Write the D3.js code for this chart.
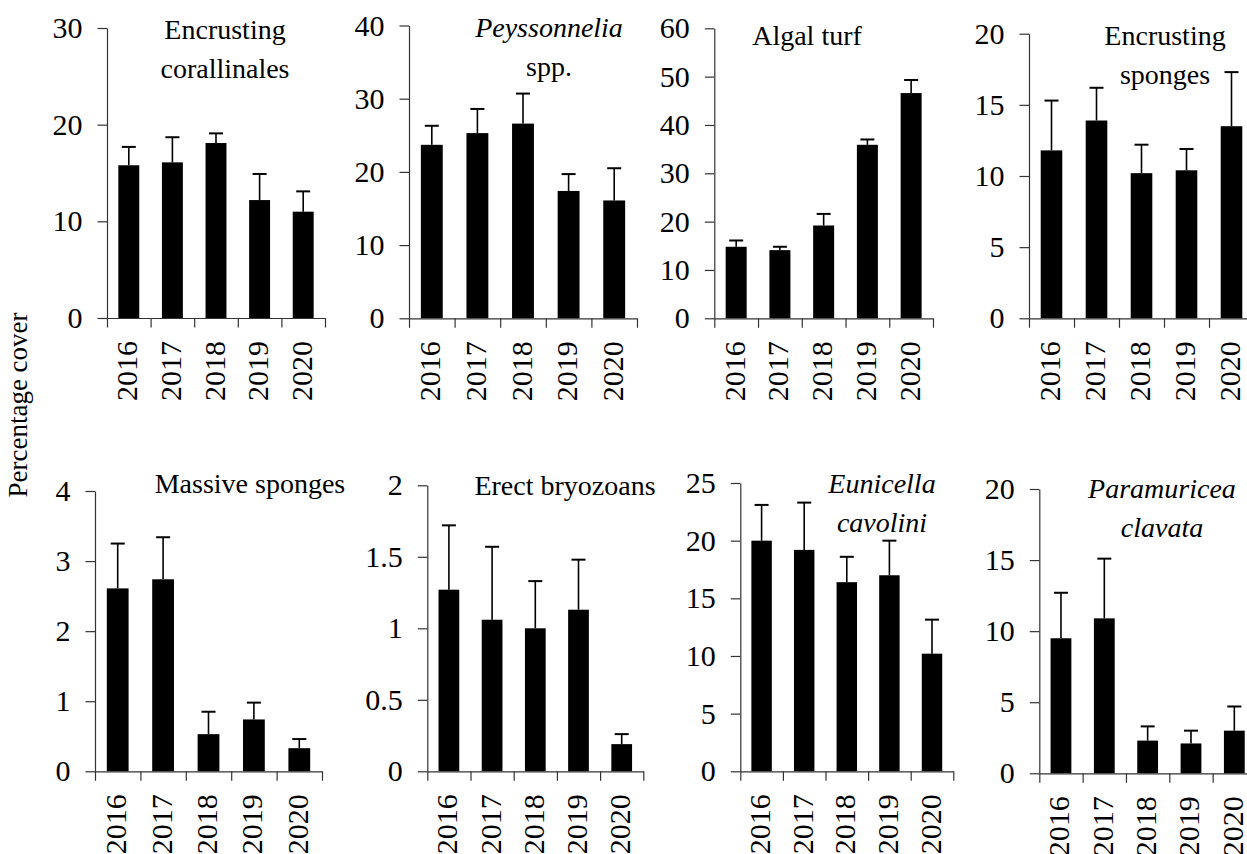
<!DOCTYPE html>
<html>
<head>
<meta charset="utf-8">
<script src="https://cdn.jsdelivr.net/npm/d3@7"></script>
<style>
  body { margin: 0; background: #fff; }
</style>
</head>
<body>
<div class="container"></div>
<script>
const years = ['2016', '2017', '2018', '2019', '2020']

// panel titles (lines), italic for species names
const titles = [
  ['Encrusting', 'corallinales'],
  ['Peyssonnelia', 'spp.'],
  ['Algal turf'],
  ['Encrusting', 'sponges'],
  ['Massive sponges'],
  ['Erect bryozoans'],
  ['Eunicella', 'cavolini'],
  ['Paramuricea', 'clavata']
]

// mean percentage cover per year
const encCorallinales = [15.8, 16.1, 18.1, 12.2, 11.0]
const peyssonnelia = [23.7, 25.3, 26.6, 17.4, 16.1]
const algalTurf = [14.8, 14.1, 19.2, 35.9, 46.6]
const encSponges = [11.8, 13.9, 10.2, 10.4, 13.5]
const massiveSponges = [2.61, 2.74, 0.53, 0.74, 0.33]
const erectBryozoans = [1.27, 1.06, 1.00, 1.13, 0.19]
const eunicella = [20.0, 19.2, 16.4, 17.0, 10.2]
const paramuricea = [9.5, 10.9, 2.3, 2.1, 3.0]

// standard errors
const encCorallinalesSE = [1.9, 2.6, 1.0, 2.7, 2.1]
const peyssonneliaSE = [2.6, 3.3, 4.1, 2.3, 4.4]
const algalTurfSE = [1.3, 0.7, 2.4, 1.1, 2.7]
const encSpongesSE = [3.5, 2.3, 2.0, 1.5, 3.8]
const massiveSpongesSE = [0.64, 0.60, 0.32, 0.24, 0.13]
const erectBryozoansSE = [0.45, 0.51, 0.33, 0.35, 0.07]
const eunicellaSE = [3.1, 4.1, 2.2, 3.0, 2.95]
const paramuriceaSE = [3.2, 4.2, 1.0, 0.9, 1.7]

// y tick labels per panel
const yTicks = [
  [0, 10, 20, 30],
  [0, 10, 20, 30, 40],
  [0, 10, 20, 30, 40, 50, 60],
  [0, 5, 10, 15, 20],
  [0, 1, 2, 3, 4],
  [0, 0.5, 1, 1.5, 2],
  [0, 5, 10, 15, 20, 25],
  [0, 5, 10, 15, 20]
]

const means = [encCorallinales, peyssonnelia, algalTurf, encSponges,
  massiveSponges, erectBryozoans, eunicella, paramuricea]
const errors = [encCorallinalesSE, peyssonneliaSE, algalTurfSE, encSpongesSE,
  massiveSpongesSE, erectBryozoansSE, eunicellaSE, paramuriceaSE]
const italic = [false, true, false, false, false, false, true, true]

// layout of each panel: plot box left/right/top/bottom, title centre & baseline
const layout = [
  {x0: 107, x1: 325, top: 28, bottom: 318, tx: 225, ty: 39},
  {x0: 409, x1: 637, top: 25.5, bottom: 318.3, tx: 549, ty: 37},
  {x0: 714.3, x1: 933, top: 28.3, bottom: 318.3, tx: 807, ty: 45},
  {x0: 1029, x1: 1254, top: 33.7, bottom: 318.3, tx: 1165, ty: 45},
  {x0: 95, x1: 322, top: 491, bottom: 771.3, tx: 250, ty: 493},
  {x0: 427.3, x1: 643.3, top: 485.3, bottom: 771.3, tx: 565, ty: 495},
  {x0: 740.3, x1: 953.3, top: 483, bottom: 771.3, tx: 882, ty: 493},
  {x0: 1039.3, x1: 1256, top: 489, bottom: 773.3, tx: 1162, ty: 498}
]

const width = 1247
const height = 854
const serif = "'Liberation Serif'"

const svg = d3.select('.container')
  .append('svg')
  .attr('width', width)
  .attr('height', height)

svg.append('text')
  .attr('transform', 'translate(27, 405) rotate(-90)')
  .attr('text-anchor', 'middle')
  .style('font-family', serif)
  .style('font-size', '27px')
  .attr('fill', '#000')
  .text('Percentage cover')

layout.forEach(function(L, i) {
  const g = svg.append('g')
  const ticks = yTicks[i]

  const y = d3.scaleLinear()
    .domain([0, d3.max(ticks)])
    .range([L.bottom, L.top])

  const x = d3.scaleBand()
    .domain(years)
    .range([L.x0, L.x1])
    .paddingInner(0.52)
    .paddingOuter(0.26)

  const xEdges = d3.scaleLinear()
    .domain([0, years.length])
    .range([L.x0, L.x1])

  const rows = years.map((yr, j) => ({year: yr, mean: means[i][j], se: errors[i][j]}))

  // bars
  g.selectAll('rect.bar')
    .data(rows)
    .join('rect')
    .attr('class', 'bar')
    .attr('x', d => x(d.year))
    .attr('width', x.bandwidth())
    .attr('y', d => y(d.mean))
    .attr('height', d => y(0) - y(d.mean))
    .attr('fill', '#000')

  // error bars (upper only)
  g.selectAll('line.err')
    .data(rows)
    .join('line')
    .attr('class', 'err')
    .attr('x1', d => x(d.year) + x.bandwidth() / 2)
    .attr('x2', d => x(d.year) + x.bandwidth() / 2)
    .attr('y1', d => y(d.mean))
    .attr('y2', d => y(d.mean + d.se))
    .attr('stroke', '#000')
    .attr('stroke-width', 1.6)

  g.selectAll('line.cap')
    .data(rows)
    .join('line')
    .attr('class', 'cap')
    .attr('x1', d => x(d.year) + x.bandwidth() / 2 - 7)
    .attr('x2', d => x(d.year) + x.bandwidth() / 2 + 7)
    .attr('y1', d => y(d.mean + d.se))
    .attr('y2', d => y(d.mean + d.se))
    .attr('stroke', '#000')
    .attr('stroke-width', 2)

  // y axis
  const yAxis = g.append('g')
    .attr('transform', `translate(${L.x0},0)`)
    .call(d3.axisLeft(y)
      .tickValues(ticks)
      .tickFormat(d => String(d))
      .tickSize(9.5)
      .tickSizeOuter(0)
      .tickPadding(15))
  yAxis.selectAll('text')
    .style('font-family', serif)
    .style('font-size', '30px')
    .attr('fill', '#000')
  yAxis.selectAll('line, path').attr('stroke', '#333').attr('stroke-width', 1.2)

  // x axis with ticks on the category boundaries
  const xAxis = g.append('g')
    .attr('transform', `translate(0,${L.bottom})`)
    .call(d3.axisBottom(xEdges)
      .tickValues(d3.range(years.length + 1))
      .tickFormat('')
      .tickSize(9.5)
      .tickSizeOuter(0))
  xAxis.selectAll('line, path').attr('stroke', '#333').attr('stroke-width', 1.2)

  // year labels, rotated
  g.selectAll('text.year')
    .data(years)
    .join('text')
    .attr('class', 'year')
    .attr('transform', d => `translate(${x(d) + x.bandwidth() / 2 - 2},${L.bottom + 23}) rotate(-90)`)
    .attr('text-anchor', 'end')
    .attr('dy', '0.35em')
    .style('font-family', serif)
    .style('font-size', '30px')
    .attr('fill', '#000')
    .text(d => d)

  // panel title
  const lines = titles[i]
  g.selectAll('text.title')
    .data(lines)
    .join('text')
    .attr('class', 'title')
    .attr('x', L.tx)
    .attr('y', (d, k) => L.ty + k * 39)
    .attr('text-anchor', 'middle')
    .style('font-family', serif)
    .style('font-size', '28px')
    .style('font-style', (d, k) => (italic[i] && !(i === 1 && k === 1)) ? 'italic' : 'normal')
    .attr('fill', '#000')
    .text(d => d)
})
</script>
</body>
</html>
